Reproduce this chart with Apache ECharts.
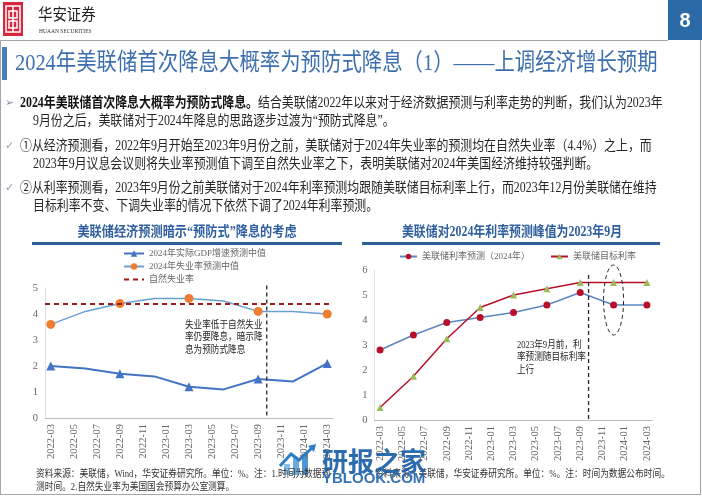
<!DOCTYPE html>
<html><head><meta charset="utf-8">
<script src="https://cdn.jsdelivr.net/npm/echarts@6/dist/echarts.min.js"></script>
<style>html,body{margin:0;padding:0;background:#fff}#c{width:702px;height:496px}</style>
</head><body><div id="c"></div>
<script>
// ---------- data ----------
const months = ['2022-03','2022-04','2022-05','2022-06','2022-07','2022-08','2022-09','2022-10','2022-11','2022-12',
  '2023-01','2023-02','2023-03','2023-04','2023-05','2023-06','2023-07','2023-08','2023-09','2023-10','2023-11','2023-12',
  '2024-01','2024-02','2024-03'];
const sepDates = ['2022-03','2022-06','2022-09','2022-12','2023-03','2023-06','2023-09','2023-12','2024-03'];
const gdpForecast = [2.0, 1.9, 1.7, 1.6, 1.2, 1.1, 1.5, 1.4, 2.1];
const unempForecast = [3.6, 4.1, 4.4, 4.6, 4.6, 4.5, 4.1, 4.1, 4.0];
const naturalRate = 4.4;
const rateForecast = [2.8, 3.4, 3.9, 4.1, 4.3, 4.6, 5.1, 4.6, 4.6];
const targetRate = [0.5, 1.75, 3.25, 4.5, 5.0, 5.25, 5.5, 5.5, 5.5];
const leftNames = ['2024年实际GDP增速预测中值', '2024年失业率预测中值', '自然失业率'];
const rightNames = ['美联储利率预测（2024年）', '美联储目标利率'];

// ---------- helpers ----------
const FONT = "'Liberation Serif','Noto Sans CJK SC',serif";
const pairs = vals => sepDates.map((d, i) => [d, vals[i]]);
function txt(x, y, text, size, color, o) {
  o = o || {};
  const fam = o.family || FONT;
  const font = (o.weight || 'normal') + ' ' + size + 'px ' + fam;
  return { type: 'text', x: x, y: y, scaleX: o.sx || 1, scaleY: 1, silent: true, z: o.z || 10,
    style: { text: text, x: 0, y: 0, fill: color, font: font, fontSize: size, fontFamily: fam, fontWeight: o.weight || 'normal',
      align: o.align || 'left', textAlign: o.align || 'left', verticalAlign: 'middle', textVerticalAlign: 'middle',
      lineHeight: o.lh, rich: o.rich, opacity: o.opacity == null ? 1 : o.opacity } };
}
const axisLbl = { fontFamily: FONT, fontSize: 10.5, color: '#666666' };

const chart = echarts.init(document.getElementById('c'));
function xAx(g) {
  return { gridIndex: g, type: 'category', data: months, boundaryGap: true,
    axisLine: { lineStyle: { color: '#bfbfbf' } },
    axisTick: { interval: 1, length: 4, lineStyle: { color: '#bfbfbf' } },
    axisLabel: Object.assign({ interval: 1, rotate: 90, margin: 6, hideOverlap: false }, axisLbl),
    splitLine: { show: false } };
}
function yAx(g, max) {
  return { gridIndex: g, type: 'value', min: 0, max: max, interval: 1,
    axisLine: { show: true, lineStyle: { color: '#e0e0e0' } }, axisTick: { show: false },
    axisLabel: Object.assign({ margin: 7 }, axisLbl), splitLine: { show: false } };
}
const option = {
  animation: false,
  backgroundColor: '#ffffff',
  grid: [
    { left: 45, top: 288, width: 288, height: 130, containLabel: false, outerBoundsMode: 'none' },
    { left: 374.5, top: 270, width: 278, height: 150, containLabel: false, outerBoundsMode: 'none' }
  ],
  xAxis: [xAx(0), xAx(1)],
  yAxis: [yAx(0, 5), yAx(1, 6)],
  legend: [
    { data: [leftNames[0], leftNames[1], { name: leftNames[2], itemStyle: { opacity: 0 } }],
      orient: 'vertical', left: 123, top: 249, itemWidth: 20, itemHeight: 8, itemGap: 4,
      textStyle: { fontFamily: FONT, fontSize: 9, color: '#666666' }, padding: 0 },
    { data: rightNames, orient: 'horizontal', left: 399, top: 252, itemWidth: 17, itemHeight: 7, itemGap: 20,
      textStyle: { fontFamily: FONT, fontSize: 9, color: '#666666' }, padding: 0 }
  ],
  series: [
    { name: leftNames[0], type: 'line', xAxisIndex: 0, yAxisIndex: 0, data: pairs(gdpForecast),
      symbol: 'triangle', symbolSize: 9, lineStyle: { color: '#4472c4', width: 2 }, itemStyle: { color: '#4472c4' } },
    { name: leftNames[1], type: 'line', xAxisIndex: 0, yAxisIndex: 0, data: pairs(unempForecast),
      symbol: 'circle', symbolSize: 9, lineStyle: { color: '#6a9fd4', width: 1.5 }, itemStyle: { color: '#ed7d31' } },
    { name: leftNames[2], type: 'line', xAxisIndex: 0, yAxisIndex: 0, data: [], symbol: 'none',
      lineStyle: { color: '#9b1b1b', width: 2, type: [5, 4] }, itemStyle: { color: '#9b1b1b' },
      markLine: { silent: true, symbol: 'none', label: { show: false },
        lineStyle: { color: '#9b1b1b', width: 2, type: [5, 4] }, data: [{ yAxis: naturalRate }] } },
    { name: rightNames[0], type: 'line', xAxisIndex: 1, yAxisIndex: 1, data: pairs(rateForecast),
      symbol: 'circle', symbolSize: 7, lineStyle: { color: '#5b86c0', width: 1.5 }, itemStyle: { color: '#b8102a' } },
    { name: rightNames[1], type: 'line', xAxisIndex: 1, yAxisIndex: 1, data: pairs(targetRate),
      symbol: 'triangle', symbolSize: 7, lineStyle: { color: '#b8102a', width: 1.5 }, itemStyle: { color: '#9bbb59' } }
  ]
};
chart.setOption(option);

// ---------- annotations positioned through the axes ----------
function px(g, cat, val) { return chart.convertToPixel({ gridIndex: g }, [cat, val]); }
function cutX(g) { const a = px(g, '2023-09', 0)[0], b = px(g, '2023-10', 0)[0]; return a + (b - a) * 0.75; }
const lx = cutX(0), rx = cutX(1);
const lTop = px(0, '2023-09', 5.1)[1], lBot = px(0, '2023-09', 0)[1];
const rTop = px(1, '2023-09', 5.8)[1], rBot = px(1, '2023-09', 0)[1];
const ell = px(1, '2023-12', 4.8), ellTop = px(1, '2023-12', 6.2)[1];

const graphics = [
  // frame
  { type: 'line', silent: true, shape: { x1: 0, y1: 40.5, x2: 668, y2: 40.5 }, style: { stroke: '#a6a6a6', lineWidth: 1 } },
  { type: 'line', silent: true, shape: { x1: 0.5, y1: 40, x2: 0.5, y2: 494 }, style: { stroke: '#a6a6a6', lineWidth: 1 } },
  { type: 'line', silent: true, shape: { x1: 0, y1: 494.5, x2: 701, y2: 494.5 }, style: { stroke: '#a6a6a6', lineWidth: 1 } },
  { type: 'line', silent: true, shape: { x1: 700.5, y1: 40, x2: 700.5, y2: 494 }, style: { stroke: '#a6a6a6', lineWidth: 1 } },
  // logo
  { type: 'rect', silent: true, shape: { x: 3, y: 2, width: 20, height: 34 }, style: { fill: '#d7263d' } },
  { type: 'rect', silent: true, shape: { x: 6, y: 6, width: 14, height: 26 }, style: { fill: 'none', stroke: '#fff', lineWidth: 1.5 } },
  { type: 'rect', silent: true, shape: { x: 9, y: 11, width: 8, height: 7 }, style: { fill: 'none', stroke: '#fff', lineWidth: 1.5 } },
  { type: 'rect', silent: true, shape: { x: 9, y: 21, width: 8, height: 7 }, style: { fill: 'none', stroke: '#fff', lineWidth: 1.5 } },
  { type: 'line', silent: true, shape: { x1: 13, y1: 6, x2: 13, y2: 32 }, style: { stroke: '#fff', lineWidth: 1.5 } },
  txt(38, 16, '华安证券', 16, '#222', { sx: 0.9 }),
  txt(39, 31.5, 'HUAAN SECURITIES', 6.5, '#333', { sx: 0.85 }),
  // page number
  { type: 'rect', silent: true, shape: { x: 668, y: 0, width: 34, height: 40 }, style: { fill: '#2b6aa6' } },
  { type: 'text', silent: true, x: 685, y: 21, style: { text: '8', fill: '#fff', font: "bold 20px 'Liberation Sans', sans-serif",
      align: 'center', textAlign: 'center', verticalAlign: 'middle', textVerticalAlign: 'middle' } },
  // title
  { type: 'rect', silent: true, shape: { x: 2, y: 47, width: 5, height: 33 }, style: { fill: '#4a7ebb' } },
  txt(15, 64, '2024年美联储首次降息大概率为预防式降息（1）——上调经济增长预期', 24, '#3d6fae', { sx: 0.85 }),
  // body
  txt(5, 103, '➢', 11, '#7f8fa6', { family: "'DejaVu Sans', sans-serif" }),
  txt(20, 103, '{b|2024年美联储首次降息大概率为预防式降息。}结合美联储2022年以来对于经济数据预测与利率走势的判断，我们认为2023年', 14, '#262626',
    { sx: 0.85, rich: { b: { font: 'bold 14px ' + FONT, fontSize: 14, fontWeight: 'bold', fontFamily: FONT, fill: '#111' } } }),
  txt(33, 121, '9月份之后，美联储对于2024年降息的思路逐步过渡为“预防式降息”。', 14, '#262626', { sx: 0.85 }),
  txt(5, 146, '✓', 11, '#8a9bb0', { family: "'DejaVu Sans', sans-serif" }),
  txt(20, 146, '①从经济预测看，2022年9月开始至2023年9月份之前，美联储对于2024年失业率的预测均在自然失业率（4.4%）之上，而', 14, '#262626', { sx: 0.85 }),
  txt(33, 164, '2023年9月议息会议则将失业率预测值下调至自然失业率之下，表明美联储对2024年美国经济维持较强判断。', 14, '#262626', { sx: 0.85 }),
  txt(5, 188, '✓', 11, '#8a9bb0', { family: "'DejaVu Sans', sans-serif" }),
  txt(20, 188, '②从利率预测看，2023年9月份之前美联储对于2024年利率预测均跟随美联储目标利率上行，而2023年12月份美联储在维持', 14, '#262626', { sx: 0.85 }),
  txt(33, 206, '目标利率不变、下调失业率的情况下依然下调了2024年利率预测。', 14, '#262626', { sx: 0.85 }),
  // chart titles
  txt(187, 232, '美联储经济预测暗示“预防式”降息的考虑', 14, '#2f5f9e', { weight: 'bold', sx: 0.87, align: 'center' }),
  { type: 'rect', silent: true, shape: { x: 32, y: 242, width: 310, height: 3 }, style: { fill: '#2e5f98' } },
  txt(512, 232, '美联储对2024年利率预测峰值为2023年9月', 14, '#2f5f9e', { weight: 'bold', sx: 0.85, align: 'center' }),
  { type: 'rect', silent: true, shape: { x: 362, y: 242, width: 298, height: 3 }, style: { fill: '#2e5f98' } },
  // annotations
  { type: 'line', silent: true, z: 5, shape: { x1: lx, y1: lTop, x2: lx, y2: lBot }, style: { stroke: '#262626', lineWidth: 1.3, lineDash: [4, 3] } },
  { type: 'line', silent: true, z: 5, shape: { x1: rx, y1: rTop, x2: rx, y2: rBot }, style: { stroke: '#262626', lineWidth: 1.3, lineDash: [4, 3] } },
  { type: 'ellipse', silent: true, z: 5, shape: { cx: ell[0], cy: ell[1], rx: 10, ry: ell[1] - ellTop }, style: { fill: 'none', stroke: '#262626', lineWidth: 1, lineDash: [4, 3] } },
  txt(185, 325, '失业率低于自然失业', 10.5, '#262626', { sx: 0.82 }),
  txt(185, 337.5, '率仍要降息，暗示降', 10.5, '#262626', { sx: 0.82 }),
  txt(185, 350, '息为预防式降息', 10.5, '#262626', { sx: 0.82 }),
  txt(517, 345, '2023年9月前，利', 10.5, '#262626', { sx: 0.82 }),
  txt(517, 357.5, '率预测随目标利率', 10.5, '#262626', { sx: 0.82 }),
  txt(517, 370, '上行', 10.5, '#262626', { sx: 0.82 }),
  // sources
  txt(36, 474, '资料来源：美联储，Wind，华安证券研究所。单位：%。注：1.时间为数据预', 10.5, '#333', { sx: 0.83 }),
  txt(36, 487, '测时间。2.自然失业率为美国国会预算办公室测算。', 10.5, '#333', { sx: 0.83 }),
  txt(375, 474, '资料来源：美联储，华安证券研究所。单位：%。注：时间为数据公布时间。', 10.5, '#333', { sx: 0.83 }),
  // watermark
  { type: 'group', silent: true, z: 50, children: [
    { type: 'rect', shape: { x: 284, y: 464, width: 6, height: 11 }, style: { fill: '#7fb6e6', opacity: 0.9 } },
    { type: 'rect', shape: { x: 293, y: 458, width: 6, height: 17 }, style: { fill: '#5ba0dc', opacity: 0.9 } },
    { type: 'rect', shape: { x: 302, y: 454, width: 6, height: 21 }, style: { fill: '#3d8bd0', opacity: 0.9 } },
    { type: 'polyline', shape: { points: [[280, 466], [291, 454], [299, 460], [312, 448]] }, style: { stroke: '#2a7cc7', lineWidth: 3, fill: 'none' } },
    { type: 'polygon', shape: { points: [[316, 444], [308, 446], [314, 452]] }, style: { fill: '#2a7cc7' } }
  ] },
  { type: 'text', silent: true, z: 50, x: 322, y: 461, style: { text: '研报之家', fill: '#1b5ea8', opacity: 0.92,
      font: "bold 26px 'Noto Sans CJK SC', sans-serif", align: 'left', textAlign: 'left', verticalAlign: 'middle', textVerticalAlign: 'middle' } },
  { type: 'text', silent: true, z: 50, x: 322, y: 479, style: { text: 'YBLOOK.COM', fill: '#2367b0', opacity: 0.92,
      font: "bold 15px 'Liberation Sans', sans-serif", align: 'left', textAlign: 'left', verticalAlign: 'middle', textVerticalAlign: 'middle' } }
];
chart.setOption({ graphic: graphics });
</script></body></html>
